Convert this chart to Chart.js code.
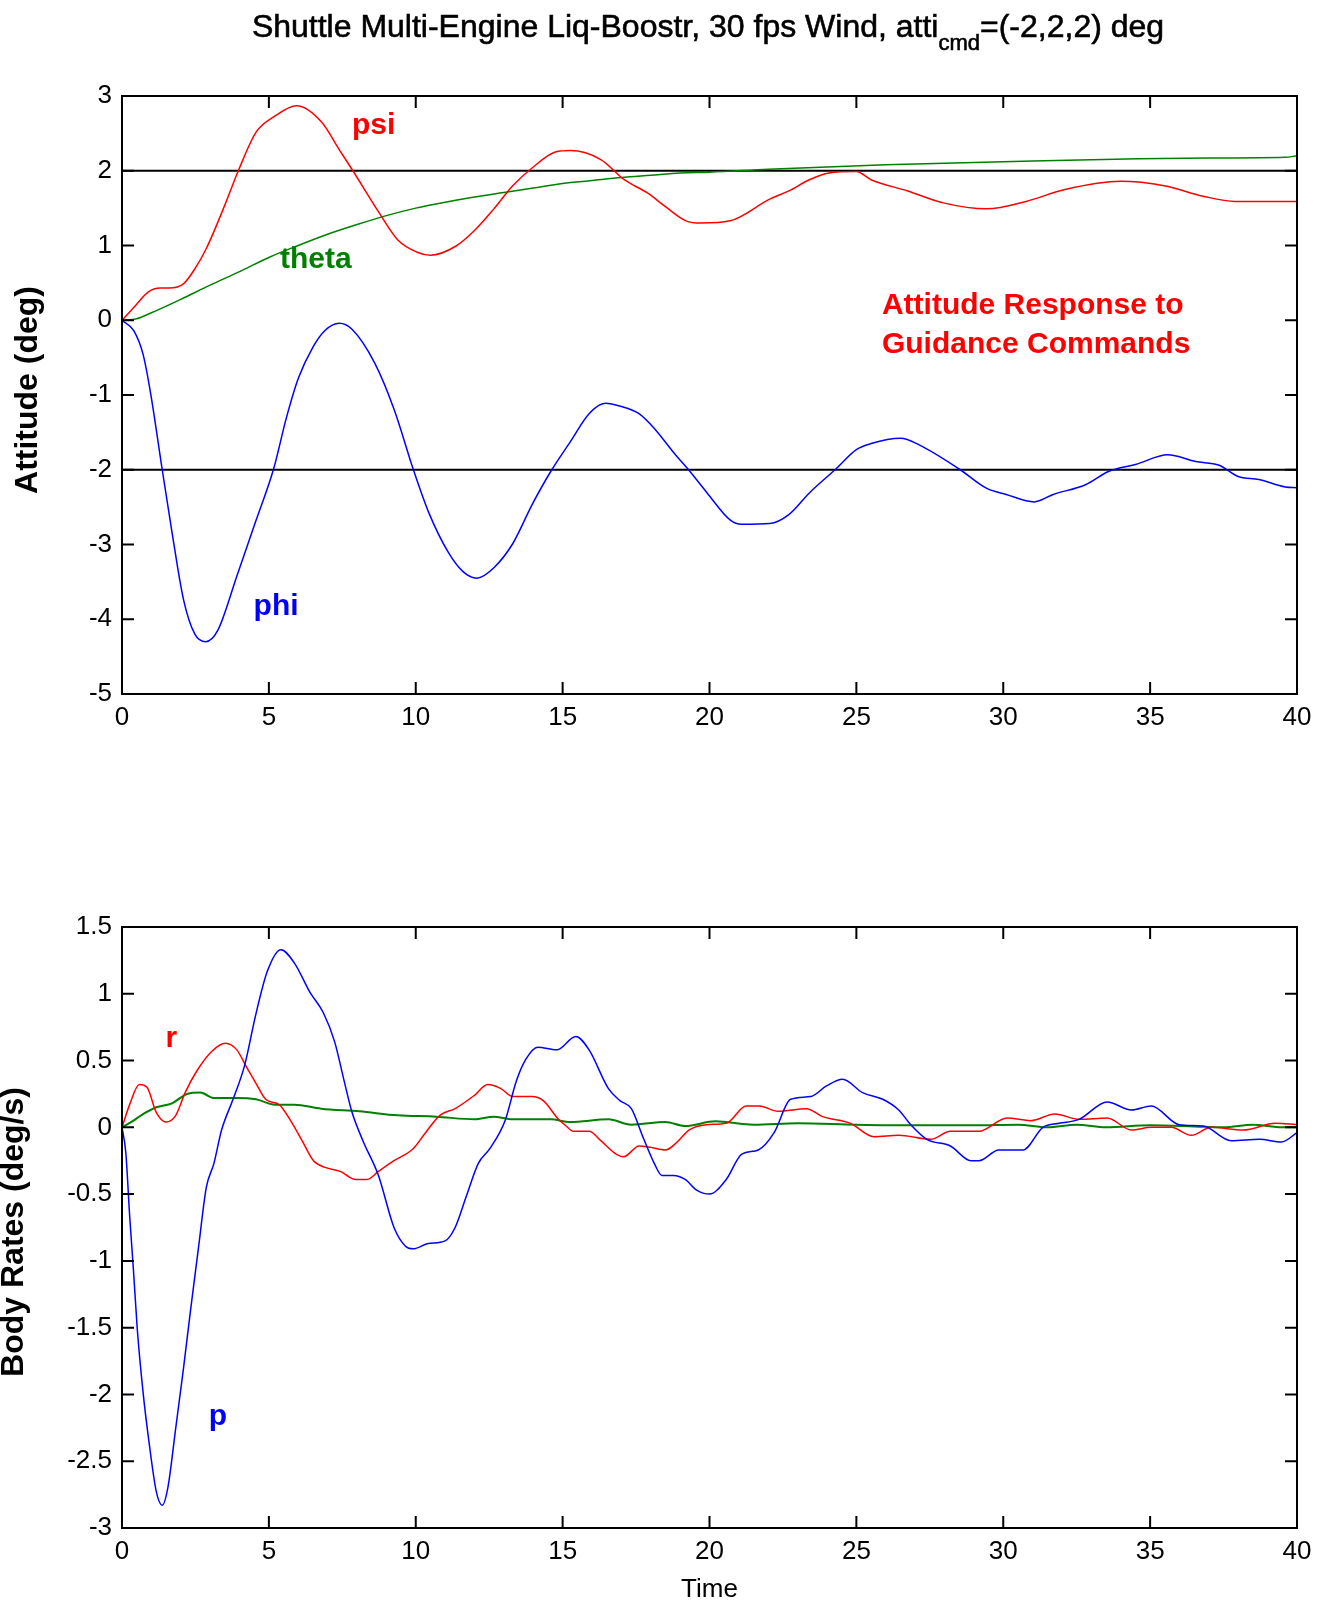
<!DOCTYPE html>
<html>
<head>
<meta charset="utf-8">
<title>Shuttle Multi-Engine Liq-Boostr</title>
<script src="https://cdn.jsdelivr.net/npm/chart.js@4.4.1/dist/chart.umd.min.js"></script>
<style>
  html, body { margin: 0; padding: 0; background: #fff; }
  #wrap { position: relative; width: 1327px; height: 1601px; }
  canvas { position: absolute; left: 0; }
  #graficoActitud { top: 0; }
  #graficoTasas { top: 780px; }
</style>
</head>
<body>
<div id="wrap">
  <canvas id="graficoActitud" width="1327" height="780"></canvas>
  <canvas id="graficoTasas" width="1327" height="821"></canvas>
</div>
<script>
// --- datos ---
const tiempoTicks = [0, 5, 10, 15, 20, 25, 30, 35, 40];
const comandos = [2, -2];

const psiT = [0, 0.4, 0.9, 1.3, 1.6, 2.1, 2.5, 2.87, 3.5, 3.96, 4.57, 5.2, 5.94, 6.8, 7.4, 7.86, 8.75, 9.4, 10.05, 10.5, 11.36, 12.0, 12.66, 13.3, 13.97, 14.75, 15.27, 16.3, 17.1, 17.9, 18.5, 19.2, 19.7, 20.7, 22.05, 22.7, 23.4, 24.07, 25.0, 25.5, 26.75, 27.96, 29.44, 30.78, 32.1, 34.0, 35.48, 36.8, 37.9, 40];
const psiV = [0, 0.17, 0.38, 0.43, 0.43, 0.49, 0.7, 0.96, 1.54, 2.0, 2.52, 2.73, 2.87, 2.65, 2.28, 2.0, 1.44, 1.07, 0.91, 0.87, 0.99, 1.2, 1.49, 1.8, 2.04, 2.25, 2.27, 2.15, 1.88, 1.7, 1.52, 1.33, 1.3, 1.33, 1.62, 1.73, 1.88, 1.97, 1.99, 1.88, 1.73, 1.57, 1.49, 1.59, 1.75, 1.86, 1.8, 1.66, 1.59, 1.59];

const thetaT = [0, 0.5, 1, 2, 3, 4, 5, 6, 7, 8, 9, 10, 11, 12, 13, 14, 15, 16, 17, 18, 19, 20, 22, 24, 26, 28, 31, 34.6, 37, 39.6, 40];
const thetaV = [0, 0.02, 0.1, 0.28, 0.47, 0.65, 0.84, 1.0, 1.15, 1.28, 1.4, 1.5, 1.58, 1.65, 1.71, 1.77, 1.83, 1.87, 1.91, 1.94, 1.97, 1.98, 2.02, 2.05, 2.08, 2.1, 2.13, 2.16, 2.17, 2.18, 2.2];

const phiT = [0, 0.4, 0.72, 0.98, 1.37, 1.7, 2.09, 2.48, 2.85, 3.26, 3.92, 4.57, 5.16, 5.6, 6.0, 6.5, 6.9, 7.4, 7.83, 8.6, 9.27, 9.92, 10.44, 11.1, 11.6, 12.08, 12.66, 13.3, 13.97, 14.6, 15.27, 15.9, 16.45, 16.97, 17.6, 18.15, 18.8, 19.37, 19.9, 20.7, 21.1, 22.05, 22.7, 23.4, 24.3, 25.0, 25.5, 26.5, 27.15, 28.5, 29.44, 30.1, 31.05, 31.7, 32.8, 33.6, 34.5, 35.6, 36.55, 37.35, 38.0, 38.7, 39.6, 40];
const phiV = [0, -0.14, -0.46, -0.99, -2.0, -2.83, -3.73, -4.2, -4.3, -4.15, -3.41, -2.67, -1.99, -1.3, -0.78, -0.36, -0.14, -0.04, -0.12, -0.57, -1.2, -2.0, -2.57, -3.1, -3.36, -3.45, -3.31, -2.99, -2.46, -2.02, -1.62, -1.25, -1.11, -1.15, -1.25, -1.46, -1.78, -2.04, -2.3, -2.67, -2.73, -2.72, -2.6, -2.31, -1.99, -1.73, -1.65, -1.58, -1.67, -1.99, -2.25, -2.33, -2.43, -2.33, -2.2, -2.02, -1.93, -1.8, -1.89, -1.94, -2.09, -2.13, -2.23, -2.24];

const pT = [0, 0.13, 0.26, 0.39, 0.52, 0.72, 0.91, 1.17, 1.37, 1.56, 1.83, 2.09, 2.35, 2.61, 2.87, 3.13, 3.39, 3.78, 4.17, 4.56, 4.95, 5.41, 5.87, 6.4, 6.85, 7.24, 7.56, 7.82, 8.2, 8.73, 9.26, 9.65, 9.91, 10.43, 11.0, 11.34, 11.73, 12.13, 12.52, 13.04, 13.43, 13.75, 14.15, 14.8, 15.45, 15.9, 16.56, 16.95, 17.34, 17.73, 18.12, 18.38, 18.77, 19.17, 19.56, 20.0, 20.57, 21.1, 21.66, 22.2, 22.76, 23.44, 23.98, 24.53, 25.21, 25.9, 26.44, 26.85, 27.4, 28.2, 28.9, 29.17, 29.85, 30.67, 31.35, 31.9, 32.58, 33.54, 34.36, 35.04, 35.99, 36.81, 37.76, 38.72, 39.47, 40];
const pV = [0, -0.19, -0.66, -1.07, -1.51, -1.99, -2.34, -2.73, -2.83, -2.7, -2.25, -1.81, -1.34, -0.89, -0.45, -0.27, -0.02, 0.21, 0.46, 0.85, 1.17, 1.33, 1.23, 1.01, 0.86, 0.64, 0.35, 0.12, -0.1, -0.36, -0.75, -0.89, -0.91, -0.87, -0.85, -0.75, -0.51, -0.27, -0.16, 0.05, 0.35, 0.51, 0.6, 0.58, 0.68, 0.58, 0.29, 0.2, 0.14, -0.07, -0.27, -0.36, -0.36, -0.39, -0.47, -0.5, -0.39, -0.2, -0.17, -0.04, 0.21, 0.23, 0.31, 0.36, 0.26, 0.21, 0.13, 0.02, -0.09, -0.14, -0.25, -0.25, -0.17, -0.17, 0, 0.03, 0.06, 0.19, 0.13, 0.16, 0.02, 0.01, -0.1, -0.09, -0.11, -0.04];

const rT = [0, 0.26, 0.59, 0.85, 1.17, 1.5, 1.83, 2.15, 2.54, 3.06, 3.52, 3.91, 4.24, 4.56, 4.89, 5.35, 5.74, 6.13, 6.52, 6.91, 7.43, 7.95, 8.34, 8.73, 9.26, 9.91, 10.3, 10.82, 11.34, 12.0, 12.45, 12.9, 13.3, 13.95, 14.34, 14.86, 15.12, 15.38, 15.9, 16.3, 16.82, 17.08, 17.6, 17.99, 18.5, 18.9, 19.3, 19.9, 20.57, 21.25, 21.7, 22.33, 23.3, 23.85, 24.8, 25.6, 26.44, 27.53, 28.2, 29.17, 30.13, 30.94, 31.76, 32.58, 33.54, 34.36, 35.04, 35.72, 36.4, 37.08, 38.17, 39.26, 40];
const rV = [0, 0.17, 0.32, 0.3, 0.11, 0.04, 0.09, 0.26, 0.42, 0.57, 0.63, 0.58, 0.45, 0.33, 0.21, 0.17, 0.05, -0.1, -0.25, -0.3, -0.33, -0.39, -0.39, -0.33, -0.25, -0.16, -0.05, 0.09, 0.14, 0.24, 0.32, 0.29, 0.23, 0.23, 0.2, 0.06, 0.01, -0.03, -0.03, -0.1, -0.2, -0.22, -0.14, -0.15, -0.17, -0.11, -0.02, 0.02, 0.03, 0.16, 0.16, 0.12, 0.14, 0.08, 0.03, -0.07, -0.06, -0.09, -0.03, -0.03, 0.07, 0.05, 0.1, 0.06, 0.07, -0.02, 0, 0, -0.06, 0, -0.02, 0.03, 0.02];

const qT = [0, 0.39, 0.65, 1.17, 1.7, 2.22, 2.67, 3.13, 3.91, 4.56, 5.22, 5.87, 6.78, 8.08, 9.39, 10.69, 12.0, 12.65, 13.3, 14.6, 15.25, 16.56, 17.34, 18.5, 19.17, 20.2, 21.5, 23, 25, 27, 29, 30.5, 31.5, 32.5, 33.5, 35, 36.5, 37.5, 38.5, 39.5, 40];
const qV = [0, 0.05, 0.09, 0.15, 0.18, 0.25, 0.26, 0.22, 0.22, 0.21, 0.17, 0.17, 0.14, 0.12, 0.09, 0.08, 0.06, 0.08, 0.06, 0.06, 0.04, 0.06, 0.02, 0.04, 0.01, 0.045, 0.02, 0.03, 0.02, 0.015, 0.015, 0.02, 0, 0.02, 0, 0.015, 0.007, 0, 0.02, 0, 0];

const ROJO = '#ff0000';
const VERDE = '#008000';
const AZUL = '#0000ff';
const fuenteTicks = '"Liberation Sans Narrow", "Arial Narrow", "Liberation Sans", Arial, sans-serif';
const fuenteTexto = '"Liberation Sans", Arial, sans-serif';

function puntos(ts, vs) {
    return ts.map((t, i) => ({ x: t, y: vs[i] }));
}

function serie(ts, vs, color, ancho) {
    return {
        data: puntos(ts, vs),
        borderColor: color,
        borderWidth: ancho || 1.5,
        pointRadius: 0,
        cubicInterpolationMode: 'monotone',
        fill: false
    };
}

function lineaComando(valor) {
    return {
        data: [{ x: 0, y: valor }, { x: 40, y: valor }],
        borderColor: '#000',
        borderWidth: 2,
        pointRadius: 0,
        fill: false
    };
}

// marco con ticks hacia adentro, estilo matlab
const marcoEjes = {
    id: 'marcoEjes',
    afterDatasetsDraw(chart) {
        const { ctx, chartArea: a, scales: { x, y } } = chart;
        ctx.save();
        ctx.strokeStyle = '#000';
        ctx.lineWidth = 2;
        ctx.strokeRect(a.left, a.top, a.right - a.left, a.bottom - a.top);
        ctx.beginPath();
        x.ticks.forEach(t => {
            const px = x.getPixelForValue(t.value);
            ctx.moveTo(px, a.bottom); ctx.lineTo(px, a.bottom - 12);
            ctx.moveTo(px, a.top); ctx.lineTo(px, a.top + 12);
        });
        y.ticks.forEach(t => {
            const py = y.getPixelForValue(t.value);
            ctx.moveTo(a.left, py); ctx.lineTo(a.left + 12, py);
            ctx.moveTo(a.right, py); ctx.lineTo(a.right - 12, py);
        });
        ctx.stroke();
        ctx.restore();
    }
};

// textos sobre la grafica, en coordenadas de datos
const etiquetas = {
    id: 'etiquetas',
    afterDatasetsDraw(chart, args, opts) {
        const { ctx, scales: { x, y } } = chart;
        ctx.save();
        ctx.textBaseline = 'alphabetic';
        ctx.textAlign = 'left';
        (opts.items || []).forEach(it => {
            ctx.font = 'bold 30px ' + fuenteTexto;
            ctx.fillStyle = it.color;
            ctx.fillText(it.texto, x.getPixelForValue(it.x), y.getPixelForValue(it.y));
        });
        if (opts.ejeY) {
            const e = opts.ejeY;
            ctx.translate(e.px, e.py);
            ctx.rotate(-Math.PI / 2);
            ctx.font = 'bold 32px ' + fuenteTexto;
            ctx.fillStyle = '#000';
            ctx.textAlign = 'center';
            ctx.fillText(e.texto, 0, 0);
        }
        ctx.restore();
    }
};

const tituloFigura = {
    id: 'tituloFigura',
    afterDraw(chart, args, opts) {
        if (!opts.principal) return;
        const ctx = chart.ctx;
        ctx.save();
        ctx.fillStyle = '#000';
        ctx.strokeStyle = '#000';
        ctx.lineWidth = 0.6;
        ctx.textBaseline = 'alphabetic';
        ctx.textAlign = 'left';
        const fGrande = '32px ' + fuenteTexto;
        const fSub = '22px ' + fuenteTexto;
        ctx.font = fGrande;
        const w1 = ctx.measureText(opts.principal).width;
        const w3 = ctx.measureText(opts.fin).width;
        ctx.font = fSub;
        const w2 = ctx.measureText(opts.sub).width;
        let xx = opts.centro - (w1 + w2 + w3) / 2;
        ctx.font = fGrande;
        ctx.fillText(opts.principal, xx, opts.base);
        ctx.strokeText(opts.principal, xx, opts.base);
        xx += w1;
        ctx.font = fSub;
        ctx.fillText(opts.sub, xx, opts.base + 13);
        ctx.strokeText(opts.sub, xx, opts.base + 13);
        xx += w2;
        ctx.font = fGrande;
        ctx.fillText(opts.fin, xx, opts.base);
        ctx.strokeText(opts.fin, xx, opts.base);
        ctx.restore();
    }
};

// rotulo del eje x, debajo de los numeros
const rotuloTiempo = {
    id: 'rotuloTiempo',
    afterDraw(chart, args, opts) {
        if (!opts.texto) return;
        const { ctx, scales: { x } } = chart;
        ctx.save();
        ctx.font = '26px ' + fuenteTicks;
        ctx.fillStyle = '#000';
        ctx.textAlign = 'center';
        ctx.fillText(opts.texto, x.getPixelForValue(20), x.bottom - 4);
        ctx.restore();
    }
};

function crearGrafico(canvas, datasets, ejeY, altoX, arriba, plugOpts) {
    return new Chart(canvas.getContext('2d'), {
        type: 'line',
        data: { datasets: datasets },
        options: {
            responsive: false,
            devicePixelRatio: 1,
            animation: false,
            layout: { padding: { top: arriba, right: 30, left: 0, bottom: 0 } },
            plugins: Object.assign({
                legend: { display: false },
                tooltip: { enabled: false }
            }, plugOpts),
            scales: {
                x: {
                    type: 'linear',
                    min: 0,
                    max: 40,
                    afterBuildTicks: s => { s.ticks = tiempoTicks.map(v => ({ value: v })); },
                    ticks: {
                        color: '#000',
                        padding: 8,
                        maxRotation: 0,
                        autoSkip: false,
                        font: { family: fuenteTicks, size: 26 }
                    },
                    grid: { display: false, drawTicks: false },
                    border: { display: false },
                    afterFit: s => { s.height = altoX; }
                },
                y: {
                    type: 'linear',
                    min: ejeY.min,
                    max: ejeY.max,
                    ticks: {
                        stepSize: ejeY.paso,
                        color: '#000',
                        padding: 10,
                        autoSkip: false,
                        font: { family: fuenteTicks, size: 26 },
                        callback: v => String(+v.toFixed(2))
                    },
                    grid: { display: false, drawTicks: false },
                    border: { display: false },
                    afterFit: s => { s.width = 122; }
                }
            }
        },
        plugins: [marcoEjes, etiquetas, tituloFigura, rotuloTiempo]
    });
}

const datosActitud = [
    serie(psiT, psiV, ROJO),
    serie(thetaT, thetaV, VERDE),
    serie(phiT, phiV, AZUL),
    ...comandos.map(lineaComando)
];

const datosTasas = [
    serie(pT, pV, AZUL),
    serie(rT, rV, ROJO),
    serie(qT, qV, VERDE, 2)
];

crearGrafico(document.getElementById('graficoActitud'), datosActitud,
    { min: -5, max: 3, paso: 1 }, 86, 96, {
        etiquetas: {
            items: [
                { texto: 'psi', x: 7.83, y: 2.49, color: ROJO },
                { texto: 'theta', x: 5.38, y: 0.7, color: VERDE },
                { texto: 'phi', x: 4.48, y: -3.94, color: AZUL },
                { texto: 'Attitude Response to', x: 25.87, y: 0.09, color: ROJO },
                { texto: 'Guidance Commands', x: 25.87, y: -0.44, color: ROJO }
            ],
            ejeY: { texto: 'Attitude (deg)', px: 37, py: 390 }
        },
        tituloFigura: {
            principal: 'Shuttle Multi-Engine Liq-Boostr, 30 fps Wind, atti',
            sub: 'cmd',
            fin: '=(-2,2,2) deg',
            centro: 708,
            base: 37
        },
        rotuloTiempo: {}
    });

crearGrafico(document.getElementById('graficoTasas'), datosTasas,
    { min: -3, max: 1.5, paso: 0.5 }, 73, 147, {
        etiquetas: {
            items: [
                { texto: 'r', x: 1.48, y: 0.6, color: ROJO },
                { texto: 'p', x: 2.95, y: -2.23, color: AZUL }
            ],
            ejeY: { texto: 'Body Rates (deg/s)', px: 23, py: 452 }
        },
        tituloFigura: {},
        rotuloTiempo: { texto: 'Time' }
    });
</script>
</body>
</html>
